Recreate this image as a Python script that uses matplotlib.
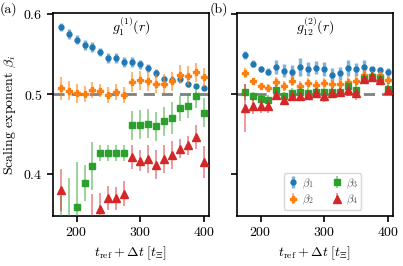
import numpy as np
import matplotlib
matplotlib.use("Agg")
import matplotlib.pyplot as plt

plt.rcParams['font.family'] = ['cmr10', 'DejaVu Serif']
plt.rcParams['mathtext.fontset'] = 'cm'
plt.rcParams['axes.formatter.use_mathtext'] = True
plt.rcParams['font.size'] = 10

# times t_ref + dt
t = np.arange(175, 401, 12.5)

# panel (a): g_1^(1)(r)
beta1_a = [0.583, 0.575, 0.568, 0.561, 0.559, 0.553, 0.545, 0.545, 0.540, 0.540,
           0.537, 0.532, 0.526, 0.519, 0.518, 0.519, 0.512, 0.510, 0.508]
err1_a = [0.005, 0.006, 0.006, 0.006, 0.006, 0.005, 0.006, 0.006, 0.006, 0.006,
          0.006, 0.005, 0.005, 0.004, 0.004, 0.004, 0.003, 0.003, 0.003]
beta2_a = [0.507, 0.504, 0.501, 0.500, 0.505, 0.504, 0.499, 0.502, 0.499, 0.515,
           0.517, 0.516, 0.513, 0.513, 0.516, 0.524, 0.523, 0.527, 0.521]
err2_a = [0.014, 0.012, 0.012, 0.010, 0.010, 0.008, 0.010, 0.010, 0.010, 0.012,
          0.012, 0.012, 0.012, 0.012, 0.012, 0.012, 0.012, 0.012, 0.012]
beta3_a = [0.320, 0.335, 0.359, 0.389, 0.410, 0.426, 0.426, 0.427, 0.427, 0.461,
           0.462, 0.463, 0.460, 0.466, 0.470, 0.482, 0.485, 0.497, 0.477]
err3_a = [0.053, 0.060, 0.056, 0.022, 0.030, 0.010, 0.010, 0.010, 0.010, 0.018,
          0.018, 0.018, 0.018, 0.018, 0.020, 0.015, 0.015, 0.015, 0.018]
beta4_a = [0.380, 0.300, 0.310, 0.320, 0.335, 0.357, 0.371, 0.370, 0.376, 0.421,
           0.417, 0.419, 0.412, 0.419, 0.424, 0.432, 0.436, 0.447, 0.415]
err4_a = [0.026, 0.010, 0.010, 0.010, 0.040, 0.020, 0.015, 0.014, 0.016, 0.015,
          0.013, 0.018, 0.018, 0.018, 0.018, 0.012, 0.012, 0.015, 0.020]

# panel (b): g_12^(2)(r)
beta1_b = [0.549, 0.538, 0.531, 0.528, 0.534, 0.529, 0.528, 0.534, 0.531, 0.533,
           0.531, 0.524, 0.526, 0.532, 0.531, 0.534, 0.531, 0.530, 0.528]
err1_b = [0.005, 0.004, 0.004, 0.004, 0.009, 0.008, 0.008, 0.011, 0.009, 0.008,
          0.009, 0.008, 0.008, 0.010, 0.008, 0.008, 0.003, 0.004, 0.005]
beta2_b = [0.526, 0.516, 0.510, 0.508, 0.515, 0.510, 0.516, 0.510, 0.514, 0.511,
           0.514, 0.512, 0.512, 0.515, 0.516, 0.524, 0.524, 0.524, 0.517]
err2_b = [0.006, 0.004, 0.004, 0.004, 0.006, 0.006, 0.006, 0.006, 0.006, 0.006,
          0.006, 0.006, 0.006, 0.006, 0.006, 0.006, 0.005, 0.005, 0.005]
beta3_b = [0.503, 0.497, 0.494, 0.493, 0.505, 0.497, 0.501, 0.503, 0.501, 0.502,
           0.502, 0.502, 0.502, 0.510, 0.505, 0.519, 0.521, 0.519, 0.506]
err3_b = [0.010, 0.006, 0.006, 0.006, 0.006, 0.006, 0.006, 0.006, 0.006, 0.006,
          0.006, 0.006, 0.006, 0.006, 0.006, 0.006, 0.006, 0.006, 0.006]
beta4_b = [0.483, 0.485, 0.485, 0.485, 0.499, 0.492, 0.498, 0.497, 0.499, 0.501,
           0.498, 0.501, 0.502, 0.505, 0.501, 0.519, 0.521, 0.518, 0.505]
err4_b = [0.030, 0.010, 0.008, 0.008, 0.006, 0.006, 0.006, 0.006, 0.006, 0.006,
          0.008, 0.006, 0.006, 0.008, 0.008, 0.006, 0.006, 0.006, 0.006]

colors = ['#1f77b4', '#ff7f0e', '#2ca02c', '#d62728']
markers = ['o', 'P', 's', '^']
msizes = [3.5, 5, 5, 5.5]
elws = [2.5, 1.5, 1.2, 1.2]
labels = [r'$\beta_1$', r'$\beta_2$', r'$\beta_3$', r'$\beta_4$']

fig = plt.figure(figsize=(4.03, 2.66), dpi=100)
ax_a = fig.add_axes([0.1315, 0.188, 0.387, 0.763])
ax_b = fig.add_axes([0.588, 0.188, 0.387, 0.763])

panels = [
    (ax_a, [beta1_a, beta2_a, beta3_a, beta4_a], [err1_a, err2_a, err3_a, err4_a], r'$g_1^{(1)}(r)$'),
    (ax_b, [beta1_b, beta2_b, beta3_b, beta4_b], [err1_b, err2_b, err3_b, err4_b], r'$g_{12}^{(2)}(r)$'),
]

for ax, betas, errs, title in panels:
    ax.axhline(0.5, color='gray', ls=(0, (4, 2.5)), lw=2, zorder=0.5)
    for i in range(4):
        ax.errorbar(t, betas[i], yerr=errs[i], fmt=markers[i], color=colors[i],
                    ms=msizes[i], elinewidth=elws[i], ecolor=colors[i],
                    label=labels[i], zorder=2 + i)
        # lighten the error bars
        for c in ax.containers[-1][2]:
            c.set_alpha(0.55)
    ax.set_xlim(163, 408)
    ax.set_ylim(0.348, 0.601)
    ax.set_xticks([200, 300, 400])
    ax.set_yticks([0.4, 0.5, 0.6])
    ax.text(0.5, 0.985, title, transform=ax.transAxes, ha='center', va='top', fontsize=10)
    ax.set_xlabel(r'$t_{\mathrm{ref}} + \Delta t\;[t_\Xi]$')
    for s in ax.spines.values():
        s.set_linewidth(1.2)
    ax.tick_params(width=1.2, length=4)

ax_b.set_yticklabels([])
ax_a.set_ylabel(r'Scaling exponent $\beta_i$')

leg = ax_b.legend(loc='lower center', ncol=2, fontsize=8, handletextpad=0.3,
                  columnspacing=1.6, borderpad=0.3, labelspacing=0.2,
                  handlelength=1.0, bbox_to_anchor=(0.55, 0.0))
for txt in leg.get_texts():
    txt.set_color('#555555')

fig.text(0.0, 0.965, '(a)', ha='left', va='center', fontsize=10)
fig.text(0.52, 0.965, '(b)', ha='left', va='center', fontsize=10)

fig.savefig('out.png', dpi=100)
